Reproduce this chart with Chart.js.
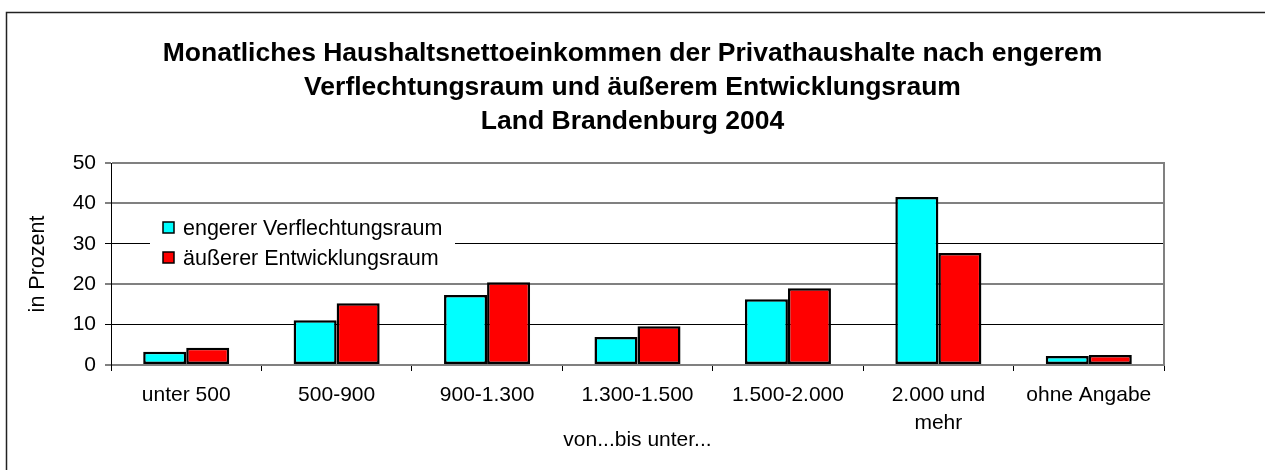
<!DOCTYPE html>
<html>
<head>
<meta charset="utf-8">
<script src="https://cdn.jsdelivr.net/npm/chart.js@4/dist/chart.umd.min.js"></script>
<style>
  body { margin: 0; background: #fff; }
  canvas { display: block; }
</style>
</head>
<body>
<canvas id="chart" width="1265" height="470"></canvas>
<script>
// Data (Prozent)
const categories = ['unter 500', '500-900', '900-1.300', '1.300-1.500', '1.500-2.000', ['2.000 und', 'mehr'], 'ohne Angabe'];
const engererVerflechtungsraum = [3.3, 11.1, 17.3, 6.9, 16.3, 41.6, 2.2];
const aeussererEntwicklungsraum = [4.3, 15.3, 20.5, 9.6, 19.0, 27.7, 2.5];
const seriesNames = ['engerer Verflechtungsraum', 'äußerer Entwicklungsraum'];
const yTicks = [0, 10, 20, 30, 40, 50];
const titleLines = [
    'Monatliches Haushaltsnettoeinkommen der Privathaushalte nach engerem',
    'Verflechtungsraum und äußerem Entwicklungsraum',
    'Land Brandenburg 2004'
];

const FONT = "'Liberation Sans', Arial, sans-serif";

// outer frame (only left + top visible in the reference)
const framePlugin = {
    id: 'frame',
    beforeDraw(chart) {
        const ctx = chart.ctx;
        ctx.save();
        ctx.strokeStyle = '#222';
        ctx.lineWidth = 1.5;
        ctx.beginPath();
        ctx.moveTo(6.5, chart.height);
        ctx.lineTo(6.5, 12.5);
        ctx.lineTo(chart.width, 12.5);
        ctx.stroke();
        ctx.restore();
    }
};

// legend drawn inside the plot area, on a white box
const innerLegend = {
    id: 'innerLegend',
    afterDatasetsDraw(chart) {
        const ctx = chart.ctx;
        const x = 150, y = 212;
        ctx.save();
        ctx.fillStyle = '#fff';
        ctx.fillRect(x, y, 305, 60);
        ctx.font = '21.5px ' + FONT;
        ctx.textBaseline = 'alphabetic';
        chart.data.datasets.forEach((ds, i) => {
            const rowY = y + 10 + i * 30;
            ctx.fillStyle = ds.backgroundColor;
            ctx.fillRect(163, rowY, 11, 11);
            ctx.strokeStyle = '#000';
            ctx.lineWidth = 1.5;
            ctx.strokeRect(163, rowY, 11, 11);
            ctx.fillStyle = '#000';
            ctx.fillText(ds.label, 183, rowY + 13);
        });
        ctx.restore();
    }
};

const gridColor = c => ([10, 30].includes(c.tick && c.tick.value) ? '#000' : '#808080');
const gridWidth = c => ([10, 30].includes(c.tick && c.tick.value) ? 1 : 2);

new Chart(document.getElementById('chart'), {
    type: 'bar',
    data: {
        labels: categories,
        datasets: [{
            label: seriesNames[0],
            data: engererVerflechtungsraum,
            backgroundColor: '#00FFFF',
            borderColor: '#000',
            borderWidth: 2.5,
            borderSkipped: false
        }, {
            label: seriesNames[1],
            data: aeussererEntwicklungsraum,
            backgroundColor: '#FF0000',
            borderColor: '#000',
            borderWidth: 2.5,
            borderSkipped: false
        }]
    },
    options: {
        responsive: false,
        animation: false,
        categoryPercentage: 0.572,
        barPercentage: 1,
        layout: { padding: 0 },
        plugins: {
            legend: { display: false },
            tooltip: { enabled: false },
            title: {
                display: true,
                text: titleLines,
                color: '#000',
                font: { family: FONT, size: 26.5, weight: 'bold', lineHeight: 34 / 26.5 },
                padding: { top: 37, bottom: 24 }
            }
        },
        scales: {
            x: {
                grid: { display: true, drawOnChartArea: false, drawTicks: true, tickLength: 6, color: '#000', offset: true },
                border: { display: true, color: '#808080', width: 2 },
                ticks: {
                    color: '#000',
                    font: { family: FONT, size: 21, lineHeight: 28 / 21 },
                    padding: 10,
                    maxRotation: 0,
                    autoSkip: false
                },
                title: {
                    display: true,
                    text: 'von...bis unter...',
                    color: '#000',
                    font: { family: FONT, size: 21 },
                    padding: { top: 0, bottom: 17 }
                },
                afterFit: s => { s.height = 105; }
            },
            y: {
                min: 0,
                max: 50,
                afterBuildTicks: s => { s.ticks = yTicks.map(v => ({ value: v })); },
                grid: { color: gridColor, lineWidth: gridWidth, drawTicks: true, tickLength: 6 },
                border: { display: true, color: '#000', width: 1 },
                ticks: {
                    color: '#000',
                    font: { family: FONT, size: 21 },
                    padding: 9
                },
                title: {
                    display: true,
                    text: 'in Prozent',
                    color: '#000',
                    font: { family: FONT, size: 21.5 },
                    padding: { top: 25, bottom: 0 }
                },
                afterFit: s => { s.width = 111; }
            },
            y2: {
                position: 'right',
                display: true,
                min: 0,
                max: 50,
                grid: { display: false, drawTicks: false },
                border: { display: true, color: '#808080', width: 2 },
                ticks: { display: false },
                afterFit: s => { s.width = 101; }
            }
        }
    },
    plugins: [framePlugin, innerLegend]
});
</script>
</body>
</html>
